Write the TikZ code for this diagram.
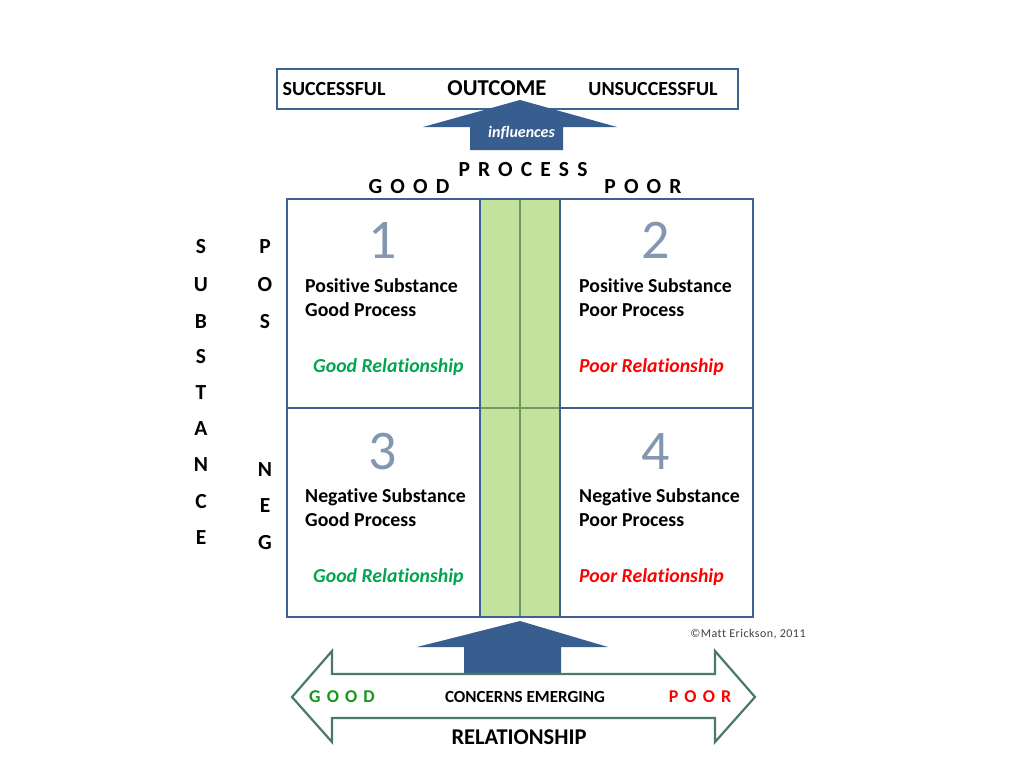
\documentclass[tikz,border=0pt]{standalone}
\usepackage{fontspec}
\setmainfont[Ligatures=NoCommon]{Carlito}
\newfontfamily\spaced[LetterSpace=38,Ligatures=NoCommon]{Carlito}
\newfontfamily\spacedb[LetterSpace=34,Ligatures=NoCommon]{Carlito}
\newfontfamily\copyfont[LetterSpace=4,Ligatures=NoCommon]{Carlito}
\begin{document}
\begin{tikzpicture}[x=1pt,y=-1pt,
  bluel/.style={draw=frameblue,line width=2.6pt},
  lbl/.style={font=\bfseries\fontsize{20}{22}\selectfont,inner sep=0pt},
  celltxt/.style={font=\bfseries\fontsize{19.8}{24}\selectfont,anchor=west,align=left,inner sep=0pt},
  rel/.style={font=\bfseries\itshape\fontsize{19.8}{22}\selectfont,anchor=west,inner sep=0pt},
  num/.style={font=\fontsize{56}{56}\selectfont,text=numgrey,inner sep=0pt},
  vletter/.style={font=\bfseries\fontsize{21.5}{22}\selectfont,inner sep=0pt},
  spc/.style={font=\spaced\bfseries\fontsize{21.5}{22}\selectfont,inner sep=0pt},
  spcb/.style={font=\spacedb\bfseries\fontsize{18}{20}\selectfont,inner sep=0pt}]
\definecolor{frameblue}{HTML}{3D6193}
\definecolor{arrowblue}{HTML}{385E8F}
\definecolor{colgreen}{HTML}{C3E29D}
\definecolor{colline}{HTML}{6E9A62}
\definecolor{numgrey}{HTML}{8497B0}
\definecolor{goodgreen}{HTML}{00A550}
\definecolor{poorred}{HTML}{FF0000}
\definecolor{dgreen}{HTML}{14961E}
\definecolor{arrowedge}{HTML}{4A7A64}
\useasboundingbox (0,0) rectangle (1024,768);
\fill[white] (0,0) rectangle (1024,768);

% top outcome box
\node[bluel,minimum width=461pt,minimum height=40pt,inner sep=0pt] (outbox) at (507.5,89) {};
\node[lbl] (succ) at (334,89) {SUCCESSFUL};
\node[lbl,font=\bfseries\fontsize{22.7}{24}\selectfont] (outc) at (497,88) {OUTCOME};
\node[lbl] (unsucc) at (653,89) {UNSUCCESSFUL};

% influences arrow
\fill[arrowblue] (470,150) -- (470,127) -- (423,127) -- (520,100) -- (617,127) -- (563,127) -- (563,150) -- cycle;
\node[font=\bfseries\itshape\fontsize{16}{18}\selectfont,text=white,inner sep=0pt] (infl) at (521.5,133) {influences};

% process labels
\node[spc] (proc) at (523,170) {PROCESS};
\node[spc] (pgood) at (409,187) {GOOD};
\node[spc] (ppoor) at (643,187) {POOR};

% green column
\fill[colgreen] (480,199) rectangle (560,617);
\draw[colline,line width=2.6pt] (520,199) -- (520,617);
\draw[colline,line width=2pt] (480,408) -- (560,408);

% grid
\draw[bluel] (287,199) rectangle (753,617);
\draw[bluel] (287,408) -- (480,408) (560,408) -- (753,408);
\draw[bluel] (480,199) -- (480,617) (560,199) -- (560,617);

% cell 1
\node[num] (n1) at (383,240) {1};
\node[celltxt] (t1) at (305,298) {Positive Substance\\Good Process};
\node[rel,text=goodgreen] (r1) at (313,367) {Good Relationship};
% cell 2
\node[num] (n2) at (656,240) {2};
\node[celltxt] (t2) at (579,298) {Positive Substance\\Poor Process};
\node[rel,text=poorred] (r2) at (579,367) {Poor Relationship};
% cell 3
\node[num] (n3) at (383,452) {3};
\node[celltxt] (t3) at (305,508) {Negative Substance\\Good Process};
\node[rel,text=goodgreen] (r3) at (313,577) {Good Relationship};
% cell 4
\node[num] (n4) at (656,452) {4};
\node[celltxt] (t4) at (579,508) {Negative Substance\\Poor Process};
\node[rel,text=poorred] (r4) at (579,577) {Poor Relationship};

% SUBSTANCE vertical
\foreach \l/\yy [count=\i] in {S/247,U/285,B/322,S/357,T/393,A/429,N/465,C/502,E/538}
  \node[vletter] (sub\i) at (201,\yy) {\l};
\foreach \l/\yy [count=\i] in {P/247,O/285,S/322}
  \node[vletter] (pos\i) at (265,\yy) {\l};
\foreach \l/\yy [count=\i] in {N/470,E/506,G/543}
  \node[vletter] (neg\i) at (265,\yy) {\l};

% copyright
\node[font=\copyfont\fontsize{12}{14}\selectfont,text=black!75,inner sep=0pt] (copy) at (748,634) {\textcopyright Matt Erickson, 2011};

% bottom up arrow
\fill[arrowblue] (464,673) -- (464,647) -- (417,647) -- (520,621) -- (608,647) -- (561,647) -- (561,673) -- cycle;

% double arrow
\draw[arrowedge,line width=2.2pt,fill=white,line join=miter]
  (292,697) -- (332,651) -- (332,674) -- (715,674) -- (715,651) -- (755,697)
  -- (715,742) -- (715,718) -- (332,718) -- (332,742) -- cycle;
\node[spcb,text=dgreen] (rgood) at (342,697) {GOOD};
\node[lbl,font=\bfseries\fontsize{17}{18}\selectfont] (conc) at (525,697) {CONCERNS EMERGING};
\node[spcb,text=poorred] (rpoor) at (700,697) {POOR};
\node[lbl,font=\bfseries\fontsize{22.5}{24}\selectfont] (relat) at (519,737) {RELATIONSHIP};
\end{tikzpicture}
\end{document}
